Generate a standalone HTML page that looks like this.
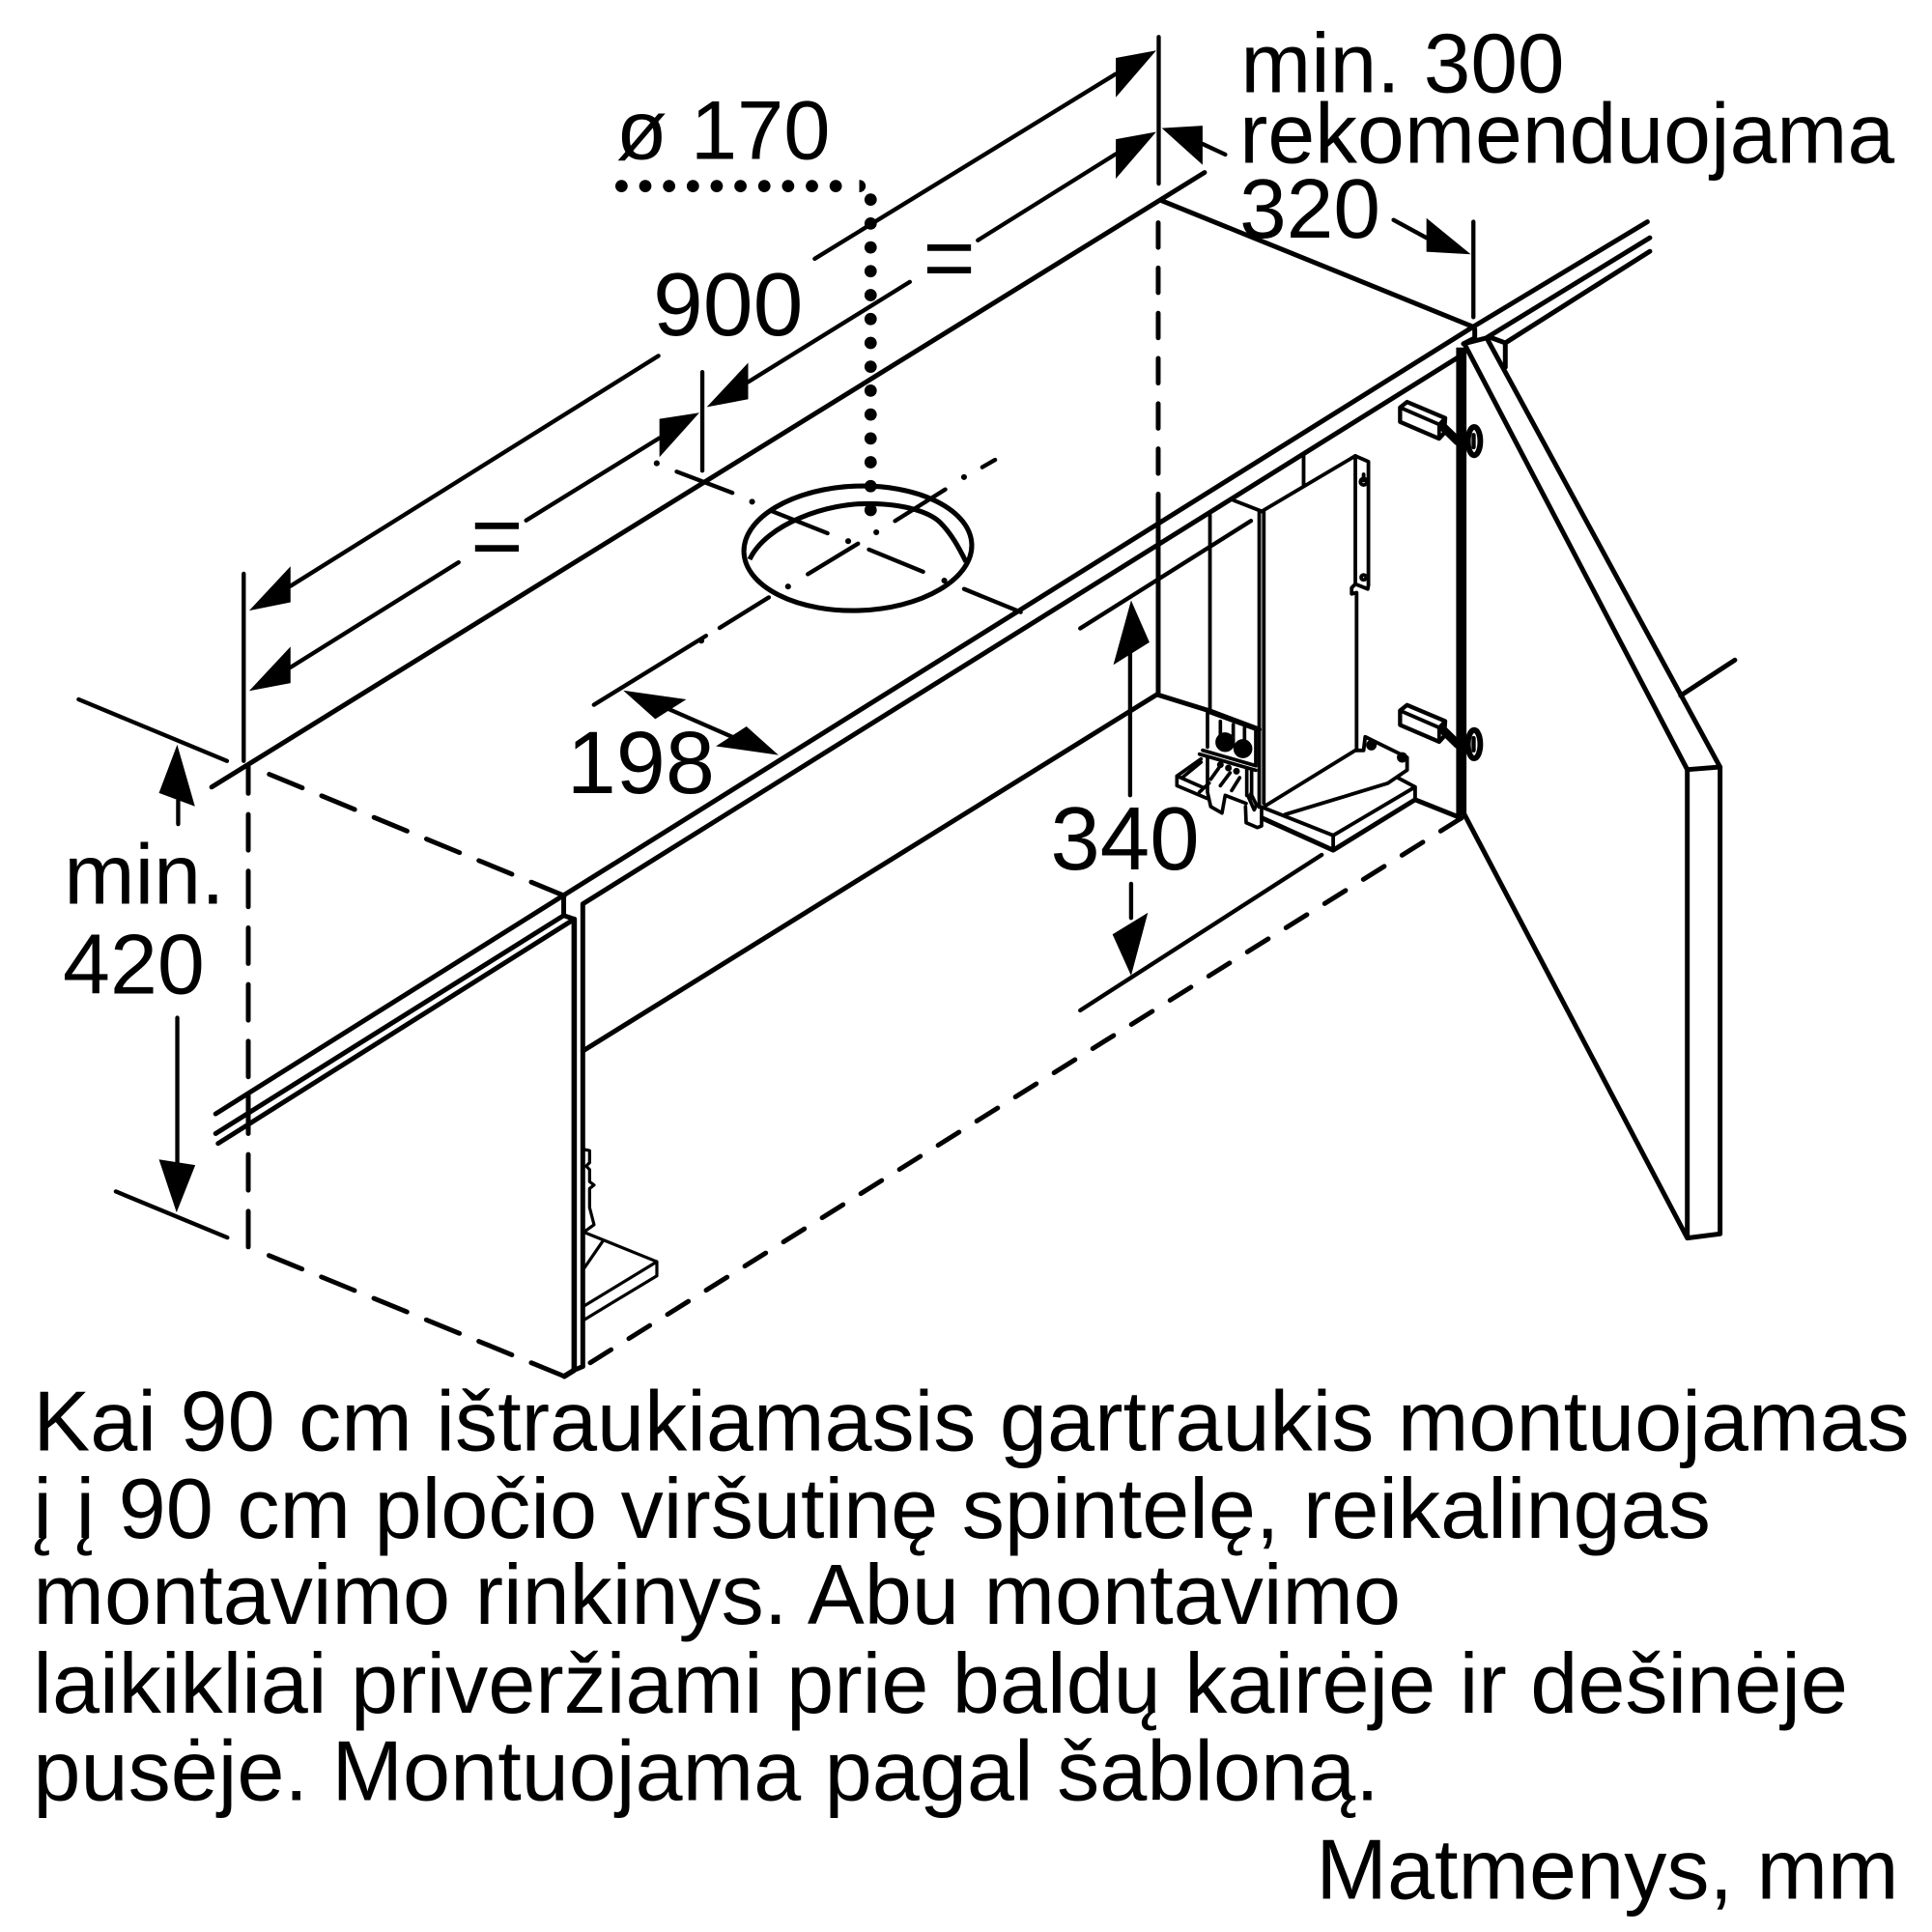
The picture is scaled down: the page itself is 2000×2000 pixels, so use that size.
<!DOCTYPE html>
<html><head><meta charset="utf-8"><style>
html,body{margin:0;padding:0;background:#fff}
svg{display:block}
text{font-family:"Liberation Sans",Arial,sans-serif;fill:#000}
</style></head><body>
<svg xmlns="http://www.w3.org/2000/svg" width="2000" height="2000" viewBox="0 0 1568 1568">
<rect width="1568" height="1568" fill="#fff"/>
<g fill="none" stroke="#000" stroke-width="3.9" stroke-linecap="round" stroke-linejoin="round">
<!-- top plane -->
<path d="M171.8 638.8L977.6 140"/>
<path d="M942 162.5L1195.6 265.2"/>
<!-- rails -->
<path d="M175 904L457.5 726.6L1195.6 265.2L1337 180"/>
<path d="M175 920L457.5 743"/>
<path d="M177 928L466 746"/>
<path d="M457.5 727V743L466 746"/>
<path d="M201.5 888V918"/>
<path d="M473 1109V733.6L1185 289"/>
<path d="M466 746V1112L458 1117" stroke-width="4.4"/>
<path d="M466 1112L473 1109"/>
<path d="M473 853L940 563V421"/>
<path d="M1196.9 267V274.4L1187.7 279L1206 274.4L1339 193"/>
<path d="M1210 274L1221.7 278.3L1339 204"/>
<path d="M1221.7 278.3V298"/>
<!-- door -->
<path d="M1186 282V662" stroke-width="8.4" stroke-linecap="butt"/>
<path d="M1189 280L1369.4 624.6"/>
<path d="M1207 275L1396 622.5"/>
<path d="M1369.4 624.6L1396 622.5V1001.4L1369.4 1004.8ZM1369.4 1004.8L1188 660"/>
<path d="M1364 564.5L1408 535.7"/>
<!-- dashed -->
<g stroke-dasharray="29 17">
<path d="M458 1117L216 1018"/>
<path d="M201.5 1012V622"/>
<path d="M458 727L203 622"/>
</g>
<path d="M479 1106L1186 664" stroke-dasharray="20 17"/>
<path d="M940 421V168" stroke-dasharray="20 16.7"/>
<!-- interior floor -->
<path d="M940 564L982 577L1022 592"/>
<path d="M1024.4 664L1082 690L1148.5 649L1186 664"/>
</g>
<!-- cabinet contents -->
<g fill="none" stroke="#000" stroke-width="3" stroke-linecap="round" stroke-linejoin="round">
<path d="M1024 655L1082 678L1148.5 638.7V649M1082 678V690M1134 631L1148.5 638.7"/>
<path d="M1027 654L1100 609L1106.7 609L1108 598L1142 614.7V625L1126.3 635.7L1043 661"/>
<path d="M1022 415V655M1025.7 415V652M1024 415L1100 370L1110.6 374.7V475L1110 478L1100 474L1097 477V482L1101 481V609"/>
<path d="M1100 370V474"/>
<path d="M1001 406L1024 415M1058 370V394M982 418V577"/>
<circle cx="1106.7" cy="391" r="2.6"/><circle cx="1106.7" cy="468.6" r="2"/>
<path d="M1106.7 385V390"/>
<circle cx="1113" cy="604.8" r="2.8" fill="#000"/><circle cx="1138" cy="614.7" r="2.8" fill="#000"/>
<!-- hinges -->
<g id="h">
<path d="M1136.3 330.7L1142 326.2L1172.9 339.3L1172 351.6L1168 356L1136.3 342.4Z" stroke-width="3.4"/>
<path d="M1136.3 330.7L1168 344.5V356M1168 344.5L1172.9 339.3"/>
<path d="M1171 346.3L1183 358" stroke-width="7"/>
<ellipse cx="1196.4" cy="358" rx="5" ry="11.5" stroke-width="4.6"/>
<path d="M1196 353V363" stroke-width="3.4"/>
</g>
<use href="#h" y="246"/>
<!-- small hardware -->
<g transform="translate(940.8 564.5) scale(.2613)" stroke-width="11">
<path d="M150 50V160M300 105V215M190 80V140M230 90V145M265 100V160M150 50L300 105"/>
<circle cx="205" cy="145" r="25" fill="#000"/><circle cx="260" cy="165" r="24" fill="#000"/>
<path d="M135 170L300 218M125 182L300 232"/>
<path d="M55 250L130 197M75 252L130 207M55 250V280L150 320M55 250L135 285"/>
<path d="M150 192V300L160 345L195 365L205 310L270 335M160 260L185 225M190 280L220 240M225 295L250 255"/>
<circle cx="190" cy="215" r="5" fill="#000"/><circle cx="215" cy="225" r="5" fill="#000"/><circle cx="240" cy="235" r="5" fill="#000"/>
<path d="M272 225V310M287 230V318M275 310L295 355L302 340L285 305M268 345L270 395L305 410L318 405V350M125 300L155 272"/>
</g>
<!-- left small hardware -->
<g transform="translate(141.1 705.6) scale(.28)" stroke-width="9">
<path d="M1190 812L1205 815V850L1195 860L1205 870V905L1218 915L1205 925V980L1218 1030L1190 1050"/>
<path d="M1190 1052L1400 1137V1178L1190 1305M1400 1137L1190 1265M1245 1075L1190 1155"/>
</g>
</g>
<!-- dimension lines -->
<g fill="none" stroke="#000" stroke-width="3.4" stroke-linecap="round">
<path d="M940.4 30V149"/>
<path d="M905.6 60L661.2 210"/>
<path d="M905.6 125L793.6 195"/>
<path d="M534.4 288.8L235.8 475.6"/>
<path d="M738.4 228.8L607.2 310"/>
<path d="M535 355.6L427 422.4"/>
<path d="M372.2 456.4L235.8 541.6"/>
<path d="M570 302V382"/>
<path d="M197.8 465.6V617.6"/>
<path d="M976 116.8L994.4 125.4"/>
<path d="M1195.8 180V257.4"/>
<path d="M1157.7 193L1131 178.5"/>
<path d="M63.8 567.6L184.2 617.6"/>
<path d="M94 967L184.5 1004.4"/>
<path d="M144.6 649.6V668.8"/>
<path d="M143.9 826V946"/>
<path d="M917.2 527.8V645.4"/>
<path d="M918 717.3V745"/>
<path d="M876.7 820L1072.7 693.8"/>
<path d="M876.7 510L1015.3 422.7"/>
<path d="M543 575.6L595 598.4"/>
<path d="M482 572L573 516M584 509.6L624 484.8M655.6 466L696.4 441.2M726.4 422.8L767.2 397.2M797.2 379.2L807.6 373.2"/>
<path d="M549.2 382.8L594.4 400M626.4 414.8L671.6 432.8M705.2 446L749.2 464M782.4 478L828.4 496.8"/>
</g>
<g fill="#000">
<polygon points="938.4,41 905.6,47 905.6,79"/>
<polygon points="938.4,107 905.6,113 905.6,145"/>
<polygon points="567.6,335 535.2,340 535.2,371"/>
<polygon points="573.6,330.4 607.2,294.4 607.2,324"/>
<polygon points="202.2,495.6 235.8,459.6 235.8,488.8"/>
<polygon points="202.2,560.8 235.8,524.8 235.8,554.4"/>
<polygon points="942.9,104 976,102 976,133.8"/>
<polygon points="1193.7,206.4 1157.7,177 1157.7,204.3"/>
<polygon points="505.8,560.4 557,567.6 531.8,583.6"/>
<polygon points="631.8,612.8 581,605.6 605.8,589.6"/>
<polygon points="143.8,604.4 129,643.6 158.2,654.4"/>
<polygon points="143.3,984 158.5,945.6 129,941"/>
<polygon points="918,487.3 932.9,521.3 903.6,539.6"/>
<polygon points="918,791.8 931.6,740.8 902.9,758.3"/>
<circle cx="533" cy="376" r="2.4"/><circle cx="610.4" cy="407.2" r="2.4"/><circle cx="688.4" cy="439.2" r="2.4"/><circle cx="766.4" cy="471.2" r="2.4"/><circle cx="782.4" cy="387.2" r="2.4"/><circle cx="711.2" cy="432" r="2.4"/><circle cx="639.6" cy="476" r="2.4"/><circle cx="569.2" cy="520" r="2.4"/>
</g>
<!-- duct hole -->
<g fill="none" stroke="#000" stroke-width="4">
<ellipse cx="696.2" cy="445" rx="92.5" ry="50.5" transform="rotate(-2 696.2 445)"/>
<path d="M608.4 454C622 425 672 408 706 408.8C735 409 755 416 763 424C772 433 778 444 784 456"/>
</g>
<!-- dotted -->
<g fill="none" stroke="#000" stroke-width="10" stroke-linecap="round">
<path d="M504.4 151H697.6" stroke-dasharray="0 19.32"/>
<path d="M706.6 162V414" stroke-dasharray="0 19.38"/>
</g>
<!-- labels -->
<text x="1007" y="75" font-size="68.5">min. 300</text>
<text x="1006" y="132" font-size="68.8">rekomenduojama</text>
<text x="1006" y="193" font-size="68.5">320</text>
<text x="500" y="129" font-size="68">ø 170</text>
<text x="530" y="272" font-size="73">900</text>
<text x="460" y="643.6" font-size="72">198</text>
<text x="852.5" y="705.5" font-size="72.5">340</text>
<text x="52" y="733.6" font-size="69">min.</text>
<text x="51" y="806.4" font-size="69">420</text>
<text x="749" y="234" font-size="73">=</text>
<text x="382" y="460" font-size="73">=</text>
<g font-size="69.2">
<text x="27" y="1177">Kai 90 cm ištraukiamasis gartraukis montuojamas</text>
<text x="27" y="1248">į į 90 cm pločio viršutinę spintelę, reikalingas</text>
<text x="27" y="1318" word-spacing="0.8">montavimo rinkinys. Abu montavimo</text>
<text x="27" y="1390">laikikliai priveržiami prie baldų kairėje ir dešinėje</text>
<text x="27" y="1461">pusėje. Montuojama pagal šabloną.</text>
<text x="1541" y="1541" text-anchor="end">Matmenys, mm</text>
</g>
</svg>
</body></html>
